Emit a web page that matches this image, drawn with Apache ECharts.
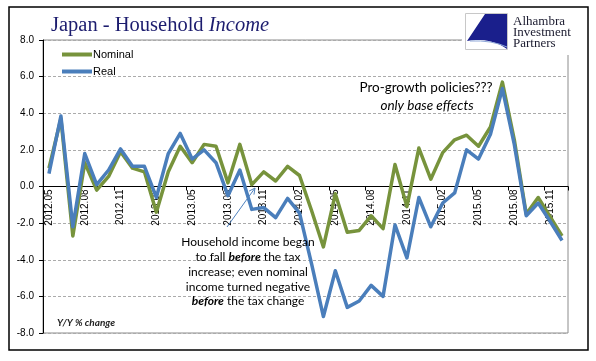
<!DOCTYPE html>
<html>
<head>
<meta charset="utf-8">
<script src="https://cdn.jsdelivr.net/npm/echarts@6/dist/echarts.min.js"></script>
<style>
html,body{margin:0;padding:0;background:#fff;}
#chart{width:596px;height:361px;}
</style>
</head>
<body>
<div id="chart"></div>
<script>
var categories = ['2012.05','2012.06','2012.07','2012.08','2012.09','2012.10','2012.11','2012.12',
  '2013.01','2013.02','2013.03','2013.04','2013.05','2013.06','2013.07','2013.08','2013.09','2013.10','2013.11','2013.12',
  '2014.01','2014.02','2014.03','2014.04','2014.05','2014.06','2014.07','2014.08','2014.09','2014.10','2014.11','2014.12',
  '2015.01','2015.02','2015.03','2015.04','2015.05','2015.06','2015.07','2015.08','2015.09','2015.10','2015.11','2015.12'];
var nominal = [1.0, 3.7, -2.7, 1.3, -0.2, 0.55, 1.9, 1.0, 0.8, -1.4, 0.8,
  2.2, 1.3, 2.3, 2.2, 0.2, 2.3, 0.1, 0.8, 0.3, 1.1, 0.6,
  -1.3, -3.3, -0.4, -2.5, -2.4, -1.6, -2.3, 1.2, -1.1, 2.1, 0.4,
  1.85, 2.55, 2.8, 2.2, 3.25, 5.7, 2.55, -1.5, -0.6, -1.65, -2.7];
var real = [0.7, 3.85, -2.2, 1.8, 0.1, 0.9, 2.05, 1.1, 1.1, -0.6, 1.8,
  2.9, 1.5, 2.0, 1.3, -0.5, 0.9, -1.25, -1.15, -1.7, -0.65, -1.45,
  -4.2, -7.1, -4.6, -6.6, -6.25, -5.4, -6.0, -2.1, -3.9, -0.6, -2.2,
  -0.9, -0.35, 2.0, 1.5, 2.85, 5.35, 2.3, -1.6, -0.9, -1.9, -2.95];
var seriesNames = ['Nominal', 'Real'];
var yTicks = {min: -8, max: 8, step: 2};

var W = 596, H = 361;
var gridTop = 40, gridBottom = 28;
var gridH = H - gridTop - gridBottom;
// place the category axis at value 0
var zeroOffset = -gridH * (0 - yTicks.min) / (yTicks.max - yTicks.min);

var chart = echarts.init(document.getElementById('chart'), null, {renderer: 'canvas'});

// arrow geometry for annotation
var ax1 = 227, ay1 = 227, ax2 = 255, ay2 = 188;
var dx = ax2 - ax1, dy = ay2 - ay1, len = Math.sqrt(dx*dx + dy*dy);
var ux = dx/len, uy = dy/len;
var hl = 6, hw = 3;
var headPts = [[ax2 - ux*hl - uy*hw, ay2 - uy*hl + ux*hw], [ax2, ay2], [ax2 - ux*hl + uy*hw, ay2 - uy*hl - ux*hw]];

// logo swoosh outline
var logoPts = [[485,14],[507,14],[507,49]];
for (var t = 0; t <= 1.0001; t += 0.1) {
  var px = (1-t)*(1-t)*507 + 2*(1-t)*t*490 + t*t*467;
  var py = (1-t)*(1-t)*49 + 2*(1-t)*t*37 + t*t*41;
  logoPts.push([px, py]);
}

var option = {
  animation: false,
  backgroundColor: '#fff',
  title: {
    left: 46, top: 10,
    text: '{a|Japan - Household }{b|Income}',
    textStyle: {
      rich: {
        a: {fontFamily: 'Liberation Serif', fontSize: 20.5, color: '#1c1c6e', fontWeight: 'normal'},
        b: {fontFamily: 'Liberation Serif', fontSize: 20.5, color: '#1c1c6e', fontStyle: 'italic', fontWeight: 'normal'}
      }
    }
  },
  legend: {
    orient: 'vertical', left: 57, top: 44,
    icon: 'rect', itemWidth: 30, itemHeight: 4, itemGap: 6,
    selectedMode: false,
    data: seriesNames,
    textStyle: {fontFamily: 'Liberation Sans', fontSize: 11, color: '#000', padding: [0, 0, 0, -4]}
  },
  grid: {
    left: 43, right: 28, top: gridTop, bottom: gridBottom,
    show: true, borderColor: '#8c8c8c', borderWidth: 1, backgroundColor: 'transparent'
  },
  xAxis: {
    type: 'category', data: categories, boundaryGap: true,
    position: 'bottom', offset: zeroOffset,
    axisLine: {onZero: false, lineStyle: {color: '#000', width: 1}},
    axisTick: {show: true, interval: 2, length: 4, lineStyle: {color: '#000'}},
    axisLabel: {interval: 2, rotate: 90, fontFamily: 'Liberation Sans', fontSize: 10, color: '#000', margin: 3},
    splitLine: {show: false}
  },
  yAxis: {
    type: 'value', min: yTicks.min, max: yTicks.max, interval: yTicks.step,
    axisLine: {show: true, lineStyle: {color: '#000', width: 1}},
    axisTick: {show: true, length: 4, lineStyle: {color: '#000'}},
    axisLabel: {formatter: function(v){ return v.toFixed(1); }, fontFamily: 'Liberation Sans', fontSize: 10, color: '#000', margin: 9},
    splitLine: {show: true, lineStyle: {color: '#ababab', type: [3, 2], width: 1}}
  },
  series: [
    {name: seriesNames[0], type: 'line', data: nominal, showSymbol: false, symbol: 'none',
     lineStyle: {color: '#77933c', width: 3.5, join: 'round'}, itemStyle: {color: '#77933c'}, z: 3},
    {name: seriesNames[1], type: 'line', data: real, showSymbol: false, symbol: 'none',
     lineStyle: {color: '#4a7ebb', width: 3.5, join: 'round'}, itemStyle: {color: '#4a7ebb'}, z: 4}
  ],
  graphic: [
    {type: 'rect', z: 100, silent: true, shape: {x: 9, y: 7, width: 579, height: 343},
     style: {fill: 'none', stroke: '#000', lineWidth: 1.5}},
    {type: 'rect', z: 100, silent: true, shape: {x: 462, y: 10, width: 124, height: 45},
     style: {fill: '#fff', stroke: 'none'}},
    {type: 'rect', z: 101, silent: true, shape: {x: 465.5, y: 13.5, width: 42, height: 36},
     style: {fill: '#fff', stroke: '#c8c8c8', lineWidth: 1}},
    {type: 'polygon', z: 102, silent: true, shape: {points: logoPts},
     style: {fill: '#1a1f8c', stroke: 'none'}},
    {type: 'bezierCurve', z: 103, silent: true,
     shape: {x1: 470, y1: 41, cpx1: 492, cpy1: 40, x2: 507, y2: 47},
     style: {fill: 'none', stroke: '#8fa8d8', lineWidth: 1}},
    {type: 'text', z: 102, silent: true, left: 513, top: 15,
     style: {text: 'Alhambra\nInvestment\nPartners', font: '13px "Liberation Serif"', fill: '#1a1a2e', lineHeight: 11}},
    {type: 'text', z: 102, silent: true, x: 426, y: 88,
     style: {text: 'Pro-growth policies???', font: '13.5px Lato', fill: '#000', align: 'center', verticalAlign: 'middle'}},
    {type: 'text', z: 102, silent: true, x: 427, y: 106,
     style: {text: 'only base effects', font: 'italic 13.5px Lato', fill: '#000', align: 'center', verticalAlign: 'middle'}},
    {type: 'text', z: 102, silent: true, x: 248, y: 272,
     style: {
       text: 'Household income began\nto fall {b|before} the tax\nincrease; even nominal\nincome turned negative\n{b|before} the tax change',
       fontFamily: 'Lato', fontSize: 12, fill: '#000', align: 'center', verticalAlign: 'middle', lineHeight: 14.8,
       rich: {b: {fontFamily: 'Lato', fontSize: 12, fontWeight: 'bold', fontStyle: 'italic', fill: '#000', lineHeight: 14.8}}
     }},
    {type: 'line', z: 102, silent: true, shape: {x1: ax1, y1: ay1, x2: ax2, y2: ay2},
     style: {stroke: '#4f81bd', lineWidth: 1}},
    {type: 'polyline', z: 102, silent: true, shape: {points: headPts},
     style: {fill: 'none', stroke: '#4f81bd', lineWidth: 1}},
    {type: 'text', z: 102, silent: true, left: 57, top: 318,
     style: {text: 'Y/Y % change', font: 'italic bold 10px Lato', fill: '#222'}}
  ]
};
chart.setOption(option);
</script>
</body>
</html>
